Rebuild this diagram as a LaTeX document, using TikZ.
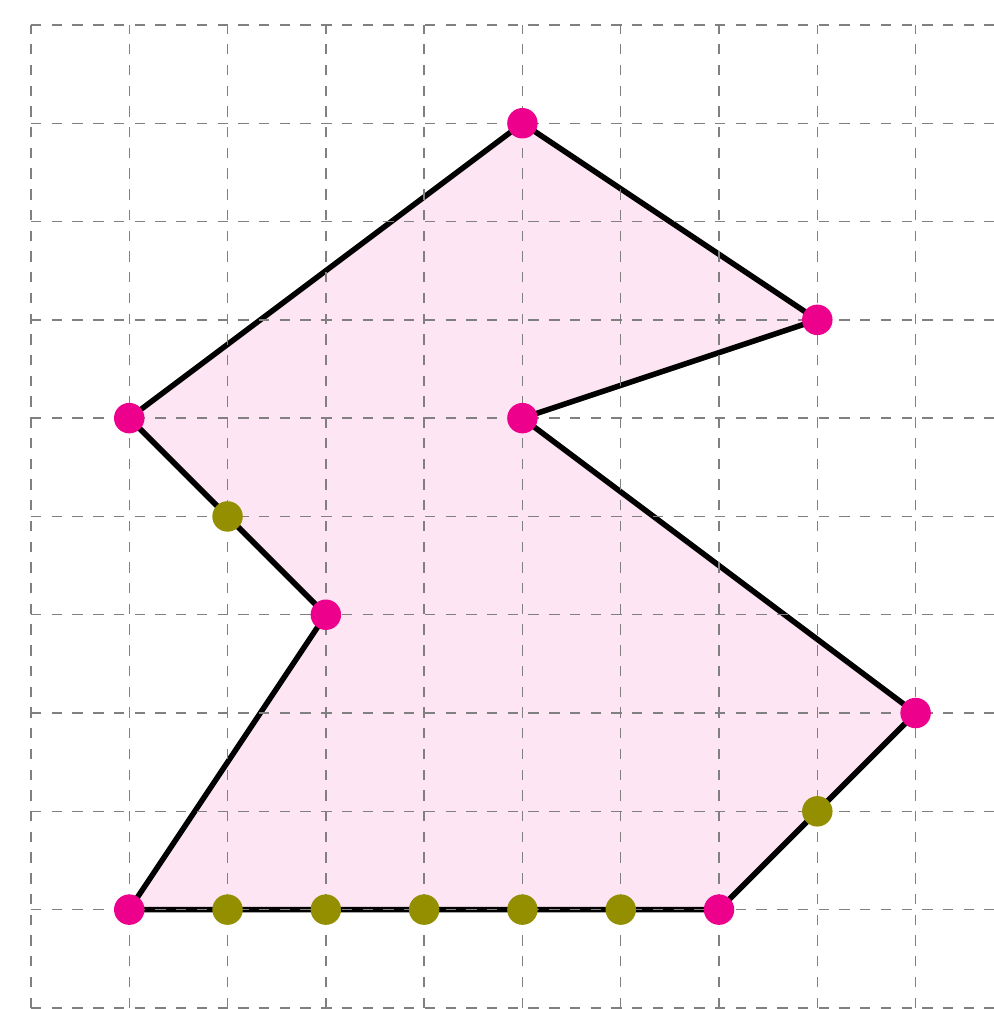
\documentclass[tikz,border=0pt]{standalone}
\definecolor{pinkdot}{HTML}{EC008C}
\definecolor{olivedot}{HTML}{948F00}
\tikzset{
  gridline/.style={gray, dashed, line width=0.4pt},
  poly/.style={black, line width=1.6pt, line join=round, fill=pinkdot!10},
  vtx/.style={circle, fill=pinkdot, inner sep=0pt, minimum size=0.31cm},
  mid/.style={circle, fill=olivedot, inner sep=0pt, minimum size=0.31cm}
}
\begin{document}
\begin{tikzpicture}
\useasboundingbox (-0.315,-0.011) rectangle (9.797,10.254);
\coordinate (p1) at (1,1);
\coordinate (p2) at (7,1);
\coordinate (p3) at (9,3);
\coordinate (p4) at (5,6);
\coordinate (p5) at (8,7);
\coordinate (p6) at (5,9);
\coordinate (p7) at (1,6);
\coordinate (p8) at (3,4);
\draw[poly] (p1) -- (p2) -- (p3) -- (p4) -- (p5) -- (p6) -- (p7) -- (p8) -- cycle;
\draw[gridline] (0,0) grid (10.5,10);
\foreach \n/\p in {a/p1,b/p2,c/p3,d/p4,e/p5,f/p6,g/p7,h/p8} {
  \node[vtx] (v\n) at (\p) {};
}
\foreach \n/\x/\y in {m1/2/1,m2/3/1,m3/4/1,m4/5/1,m5/6/1,m6/8/2,m7/2/5} {
  \node[mid] (\n) at (\x,\y) {};
}
\end{tikzpicture}
\end{document}
